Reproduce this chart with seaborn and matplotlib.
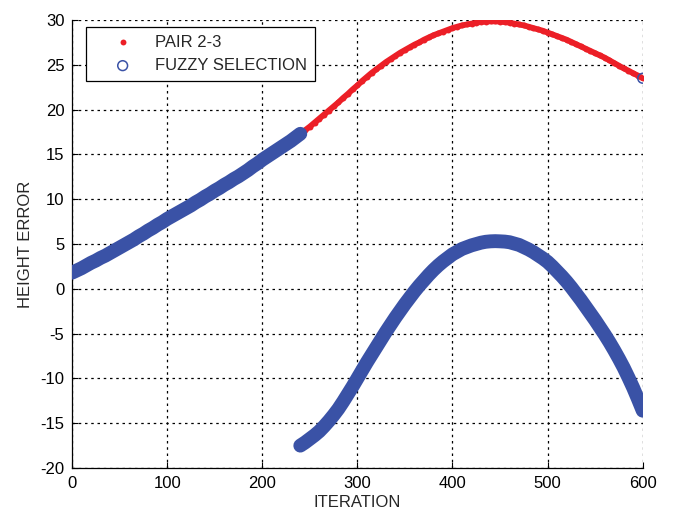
import numpy as np
import pandas as pd
import matplotlib
matplotlib.use("Agg")
import matplotlib.pyplot as plt
import seaborn as sns

# iterations sampled every 5
iters = list(range(0, 601, 5))

pair23 = [1.8, 2.05, 2.3, 2.6, 2.9, 3.15, 3.45, 3.7, 4.0, 4.3, 4.6, 4.9, 5.2, 5.5, 5.85, 6.15,
          6.5, 6.8, 7.15, 7.45, 7.8, 8.1, 8.4, 8.7, 9.0, 9.3, 9.65, 9.95, 10.3, 10.6, 10.95, 11.25,
          11.6, 11.9, 12.25, 12.55, 12.9, 13.25, 13.65, 14.0, 14.4, 14.75, 15.1, 15.45, 15.8, 16.15,
          16.5, 16.9, 17.3,
          17.7, 18.1, 18.55, 19.0, 19.45, 19.9, 20.35, 20.8, 21.3, 21.75, 22.25, 22.7, 23.2, 23.65,
          24.1, 24.5, 24.9, 25.3, 25.65, 26.0, 26.35, 26.65, 26.95, 27.25, 27.5, 27.8, 28.05, 28.3,
          28.5, 28.7, 28.9, 29.1, 29.25, 29.4, 29.5, 29.6, 29.7, 29.78, 29.83, 29.85, 29.85,
          29.82, 29.77, 29.7, 29.6, 29.5, 29.4, 29.25, 29.1, 28.95, 28.8, 28.6, 28.4, 28.2, 28.0,
          27.8, 27.55, 27.3, 27.05, 26.8, 26.55, 26.3, 26.05, 25.8, 25.5, 25.2, 24.9, 24.6, 24.35,
          24.05, 23.8, 23.5]

# fuzzy selection: follows PAIR 2-3 up to iteration 240, then a lower branch, plus final point
fuzzy_upper_end = 240
fuzzy_lower_iters = list(range(240, 601, 5))
fuzzy_lower = [-17.5, -17.15, -16.75, -16.35, -15.9, -15.35, -14.75, -14.1, -13.4, -12.6, -11.75,
               -10.9, -10.0, -9.1, -8.2, -7.35, -6.5, -5.65, -4.8, -4.0, -3.2, -2.45, -1.7, -1.0,
               -0.3, 0.35, 0.95, 1.55, 2.1, 2.6, 3.05, 3.45, 3.85, 4.15, 4.45, 4.65, 4.85, 5.0,
               5.15, 5.25, 5.3, 5.32, 5.3, 5.27, 5.2, 5.05, 4.9, 4.65, 4.4, 4.1, 3.75, 3.4, 3.0,
               2.5, 1.95, 1.4, 0.8, 0.15, -0.55, -1.25, -2.0, -2.75, -3.5, -4.3, -5.1, -5.95,
               -6.85, -7.8, -8.8, -9.9, -11.05, -12.3, -13.6]
fuzzy_final_iter = [600]
fuzzy_final = [23.5]

xticks = [0, 100, 200, 300, 400, 500, 600]
yticks = [-20, -15, -10, -5, 0, 5, 10, 15, 20, 25, 30]

red_df = pd.DataFrame({"ITERATION": iters, "HEIGHT ERROR": pair23})
up_n = iters.index(fuzzy_upper_end) + 1
upper_df = pd.DataFrame({"ITERATION": iters[:up_n], "HEIGHT ERROR": pair23[:up_n]})
lower_df = pd.DataFrame({"ITERATION": fuzzy_lower_iters, "HEIGHT ERROR": fuzzy_lower})
blue_df = pd.DataFrame({
    "ITERATION": iters[:up_n] + fuzzy_lower_iters + fuzzy_final_iter,
    "HEIGHT ERROR": pair23[:up_n] + fuzzy_lower + fuzzy_final,
})

sns.set_style("white")
plt.rcParams["font.family"] = ["Liberation Sans", "DejaVu Sans"]
plt.rcParams["axes.unicode_minus"] = False

fig = plt.figure(figsize=(6.73, 5.12), dpi=100)
ax = fig.add_axes([0.107, 0.0859, 0.848, 0.875])

RED = "#ec1f27"
BLUE = "#3a52a6"

# dense point trails (drawn as thick traces under the markers)
sns.lineplot(data=red_df, x="ITERATION", y="HEIGHT ERROR", ax=ax, color=RED, linewidth=4.2,
             sort=False, estimator=None, legend=False, zorder=2, solid_capstyle="round")
sns.scatterplot(data=red_df, x="ITERATION", y="HEIGHT ERROR", ax=ax, color=RED, s=18,
                linewidth=0, marker="o", label="PAIR 2-3", zorder=3)
for seg in (upper_df, lower_df):
    sns.lineplot(data=seg, x="ITERATION", y="HEIGHT ERROR", ax=ax, color=BLUE, linewidth=10,
                 sort=False, estimator=None, legend=False, zorder=4, solid_capstyle="round")
sns.scatterplot(data=blue_df, x="ITERATION", y="HEIGHT ERROR", ax=ax, marker="o", s=50,
                facecolors="none", edgecolor=BLUE, linewidth=1.1, label="FUZZY SELECTION", zorder=5)

ax.set_xlim(0, 600)
ax.set_ylim(-20, 30)
ax.set_xticks(xticks)
ax.set_yticks(yticks)
ax.tick_params(direction="in", length=4, width=0.8, labelsize=12, colors="black",
               bottom=True, left=True, pad=5.5)
ax.grid(True, color="black", linestyle=(0, (2, 3)), linewidth=0.9)
for s in ["top", "right"]:
    ax.spines[s].set_visible(False)
for s in ["left", "bottom"]:
    ax.spines[s].set_color("black")
    ax.spines[s].set_linewidth(0.9)

ax.set_xlabel("ITERATION", fontsize=12, labelpad=3)
ax.set_ylabel("HEIGHT ERROR", fontsize=12, labelpad=5)

handles, labels = ax.get_legend_handles_labels()
keep = [(h, l) for h, l in zip(handles, labels) if l in ("PAIR 2-3", "FUZZY SELECTION")]
leg = ax.legend([k[0] for k in keep], [k[1] for k in keep], loc="upper left",
                bbox_to_anchor=(0.0245, 0.984), fontsize=12, frameon=True,
                fancybox=False, edgecolor="black", borderpad=0.45, handletextpad=0.2,
                labelspacing=0.5, handlelength=3.5, markerscale=1.0, borderaxespad=0)
leg.get_frame().set_linewidth(0.9)
leg.get_frame().set_facecolor("white")
leg.get_frame().set_alpha(1)
leg.set_zorder(10)

fig.savefig("out.png", dpi=100)
